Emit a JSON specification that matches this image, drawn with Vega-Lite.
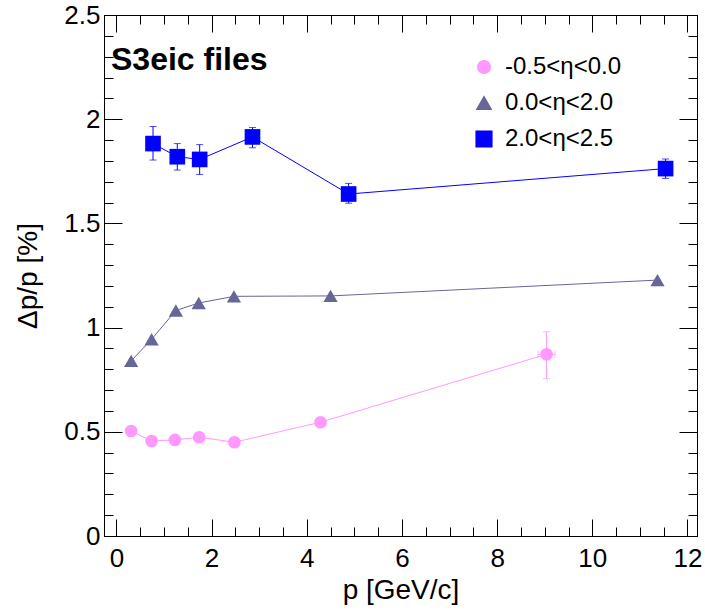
{
  "$schema": "https://vega.github.io/schema/vega-lite/v6.json",
  "width": 593,
  "height": 521,
  "autosize": {"type": "none"},
  "padding": {"left": 104, "top": 15, "right": 8, "bottom": 75},
  "background": "white",
  "title": {"text": "S3eic files", "anchor": "start", "frame": "group", "orient": "top", "offset": 0, "dx": 7, "dy": 100, "baseline": "alphabetic", "font": "Liberation Sans", "fontSize": 32, "fontWeight": "bold", "color": "black"},
  "config": {
    "view": {"stroke": "black", "strokeWidth": 1},
    "axis": {"grid": false, "domainColor": "black", "tickColor": "black", "labelColor": "black", "titleColor": "black", "labelFont": "Liberation Sans", "titleFont": "Liberation Sans", "labelFontSize": 26, "titleFontSize": 28, "titleFontWeight": "normal", "labelFlush": false, "labelOverlap": false, "labelBound": false}
  },
  "data": {"values": [
    {"series": "-0.5<η<0.0", "p": 0.31, "v": 0.504},
    {"series": "-0.5<η<0.0", "p": 0.74, "v": 0.456},
    {"series": "-0.5<η<0.0", "p": 1.23, "v": 0.461},
    {"series": "-0.5<η<0.0", "p": 1.74, "v": 0.474},
    {"series": "-0.5<η<0.0", "p": 2.48, "v": 0.45},
    {"series": "-0.5<η<0.0", "p": 4.29, "v": 0.546},
    {"series": "-0.5<η<0.0", "p": 9.04, "v": 0.872, "vlo": 0.755, "vhi": 0.98, "plo": 8.86, "phi": 9.22},
    {"series": "0.0<η<2.0", "p": 0.31, "v": 0.84},
    {"series": "0.0<η<2.0", "p": 0.74, "v": 0.944},
    {"series": "0.0<η<2.0", "p": 1.25, "v": 1.082},
    {"series": "0.0<η<2.0", "p": 1.73, "v": 1.118},
    {"series": "0.0<η<2.0", "p": 2.47, "v": 1.15},
    {"series": "0.0<η<2.0", "p": 4.5, "v": 1.152},
    {"series": "0.0<η<2.0", "p": 11.37, "v": 1.228},
    {"series": "2.0<η<2.5", "p": 0.77, "v": 1.883, "vlo": 1.804, "vhi": 1.965},
    {"series": "2.0<η<2.5", "p": 1.28, "v": 1.82, "vlo": 1.756, "vhi": 1.883},
    {"series": "2.0<η<2.5", "p": 1.75, "v": 1.807, "vlo": 1.735, "vhi": 1.878},
    {"series": "2.0<η<2.5", "p": 2.86, "v": 1.915, "vlo": 1.863, "vhi": 1.96},
    {"series": "2.0<η<2.5", "p": 4.88, "v": 1.641, "vlo": 1.597, "vhi": 1.692},
    {"series": "2.0<η<2.5", "p": 11.54, "v": 1.763, "vlo": 1.716, "vhi": 1.809}
  ]},
  "resolve": {"axis": {"x": "independent", "y": "independent"}},
  "layer": [
    {
      "mark": {"type": "point", "filled": true, "opacity": 1},
      "encoding": {
        "x": {"field": "p", "type": "quantitative", "scale": {"domain": [-0.26, 12.2], "nice": false, "zero": false}, "axis": {
          "orient": "bottom", "title": "p [GeV/c]", "titleY": 62, "titleBaseline": "alphabetic",
          "values": [0,0.5,1,1.5,2,2.5,3,3.5,4,4.5,5,5.5,6,6.5,7,7.5,8,8.5,9,9.5,10,10.5,11,11.5,12],
          "tickSize": {"condition": {"test": "datum.value % 2 === 0", "value": -17}, "value": -9},
          "labelExpr": "datum.value % 2 === 0 ? format(datum.value, '~g') : ''",
          "labelPadding": 26
        }},
        "y": {"field": "v", "type": "quantitative", "scale": {"domain": [0, 2.5], "nice": false, "zero": false}, "axis": {
          "orient": "left", "title": "Δp/p [%]", "titleX": -68, "titleBaseline": "alphabetic", "titleAngle": -90,
          "values": [0,0.1,0.2,0.3,0.4,0.5,0.6,0.7,0.8,0.9,1,1.1,1.2,1.3,1.4,1.5,1.6,1.7,1.8,1.9,2,2.1,2.2,2.3,2.4,2.5],
          "tickSize": {"condition": {"test": "abs(datum.value*2 - round(datum.value*2)) < 0.001", "value": -18}, "value": -9},
          "labelExpr": "abs(datum.value*2 - round(datum.value*2)) < 0.001 ? format(datum.value, '~g') : ''",
          "labelPadding": 22
        }},
        "color": {"field": "series", "type": "nominal", "scale": {"domain": ["-0.5<η<0.0", "0.0<η<2.0", "2.0<η<2.5"], "range": ["#ff99ff", "#666699", "#0000ff"]}, "legend": {
          "title": null, "orient": "none", "legendX": 368, "legendY": 40, "padding": 0,
          "labelFont": "Liberation Sans", "labelFontSize": 24, "labelColor": "black", "labelOffset": 9,
          "symbolSize": 220, "rowPadding": 12
        }},
        "shape": {"field": "series", "type": "nominal", "scale": {"domain": ["-0.5<η<0.0", "0.0<η<2.0", "2.0<η<2.5"], "range": ["circle", "triangle-up", "square"]}, "legend": {
          "title": null, "orient": "none", "legendX": 368, "legendY": 40, "padding": 0,
          "labelFont": "Liberation Sans", "labelFontSize": 24, "labelColor": "black", "labelOffset": 9,
          "symbolSize": 220, "rowPadding": 12
        }},
        "size": {"field": "series", "type": "nominal", "scale": {"domain": ["-0.5<η<0.0", "0.0<η<2.0", "2.0<η<2.5"], "range": [160, 245, 225]}, "legend": null}
      }
    },
    {
      "mark": {"type": "line", "strokeWidth": 1, "interpolate": "linear"},
      "encoding": {
        "x": {"field": "p", "type": "quantitative", "axis": {
          "orient": "top", "title": null, "labels": false,
          "values": [0,0.5,1,1.5,2,2.5,3,3.5,4,4.5,5,5.5,6,6.5,7,7.5,8,8.5,9,9.5,10,10.5,11,11.5,12],
          "tickSize": {"condition": {"test": "datum.value % 2 === 0", "value": -17}, "value": -9}
        }},
        "y": {"field": "v", "type": "quantitative", "axis": {
          "orient": "right", "title": null, "labels": false,
          "values": [0,0.1,0.2,0.3,0.4,0.5,0.6,0.7,0.8,0.9,1,1.1,1.2,1.3,1.4,1.5,1.6,1.7,1.8,1.9,2,2.1,2.2,2.3,2.4,2.5],
          "tickSize": {"condition": {"test": "abs(datum.value*2 - round(datum.value*2)) < 0.001", "value": -18}, "value": -9}
        }},
        "detail": {"field": "series"},
        "color": {"field": "series", "type": "nominal", "legend": null}
      }
    },
    {
      "transform": [{"filter": "isValid(datum.vlo)"}],
      "mark": {"type": "rule", "strokeWidth": 1},
      "encoding": {
        "x": {"field": "p", "type": "quantitative", "axis": null},
        "y": {"field": "vlo", "type": "quantitative", "axis": null},
        "y2": {"field": "vhi"},
        "color": {"field": "series", "type": "nominal", "legend": null}
      }
    },
    {
      "transform": [{"filter": "isValid(datum.vlo)"}, {"fold": ["vlo", "vhi"], "as": ["k", "cap"]}],
      "mark": {"type": "tick", "orient": "horizontal", "size": 7, "thickness": 1},
      "encoding": {
        "x": {"field": "p", "type": "quantitative", "axis": null},
        "y": {"field": "cap", "type": "quantitative", "axis": null},
        "color": {"field": "series", "type": "nominal", "legend": null}
      }
    },
    {
      "transform": [{"filter": "isValid(datum.plo)"}],
      "mark": {"type": "rule", "strokeWidth": 1},
      "encoding": {
        "x": {"field": "plo", "type": "quantitative", "axis": null},
        "x2": {"field": "phi"},
        "y": {"field": "v", "type": "quantitative", "axis": null},
        "color": {"field": "series", "type": "nominal", "legend": null}
      }
    },
    {
      "transform": [{"filter": "isValid(datum.plo)"}, {"fold": ["plo", "phi"], "as": ["k", "capx"]}],
      "mark": {"type": "tick", "orient": "vertical", "size": 7, "thickness": 1},
      "encoding": {
        "x": {"field": "capx", "type": "quantitative", "axis": null},
        "y": {"field": "v", "type": "quantitative", "axis": null},
        "color": {"field": "series", "type": "nominal", "legend": null}
      }
    }
  ]
}
